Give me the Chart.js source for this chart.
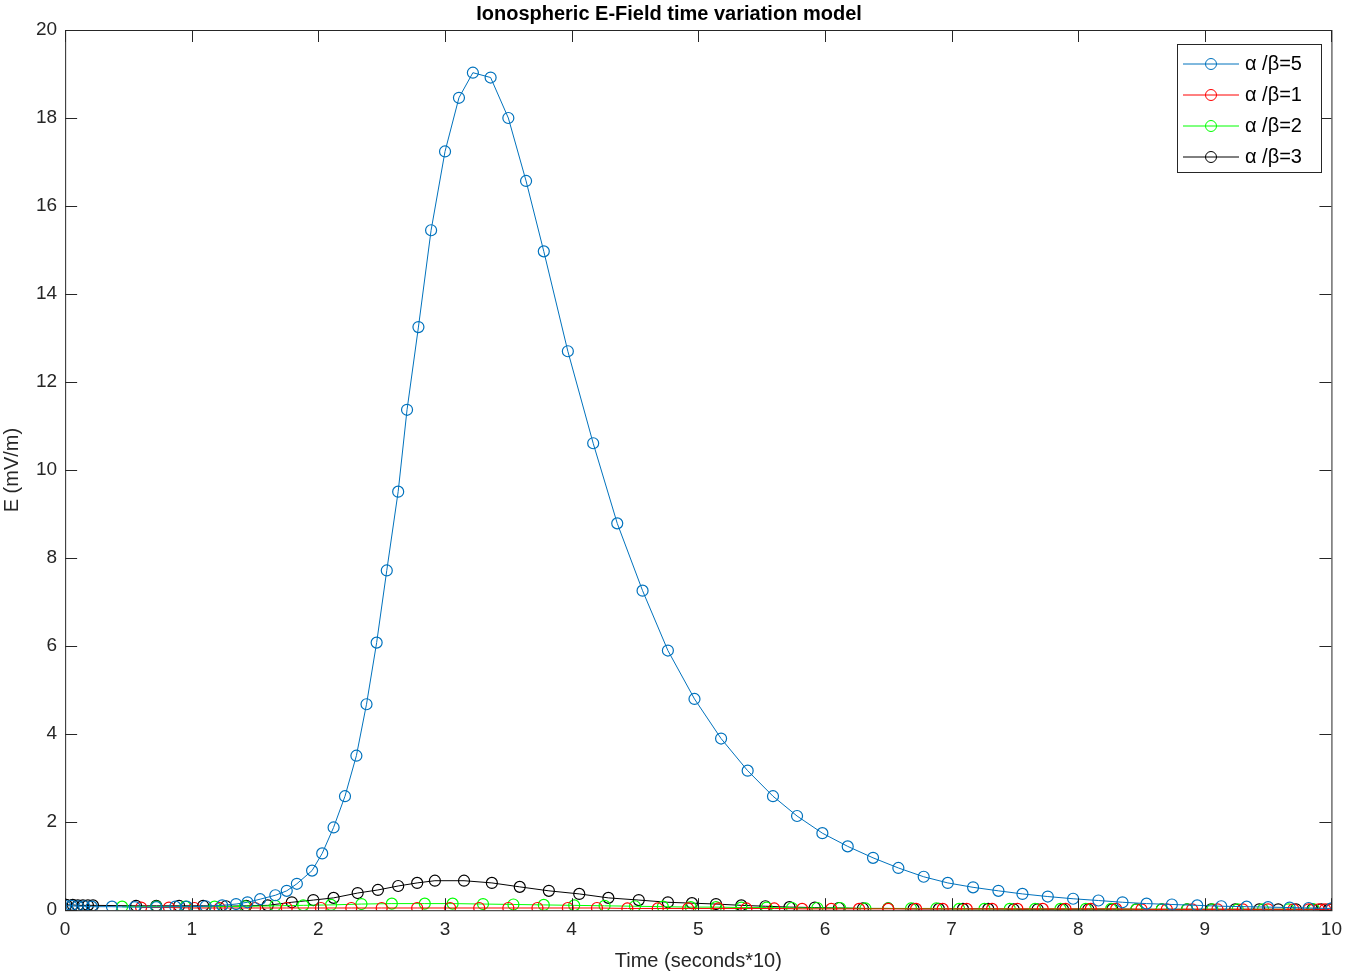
<!DOCTYPE html>
<html>
<head>
<meta charset="utf-8">
<script src="https://cdn.jsdelivr.net/npm/chart.js@4/dist/chart.umd.min.js"></script>
<style>
  body { margin: 0; background: #fff; }
  #wrap { width: 1350px; height: 977px; }
</style>
</head>
<body>
<div id="wrap"><canvas id="c"></canvas></div>
<script>
// values
const seriesNames = ["α /β=5", "α /β=1", "α /β=2", "α /β=3"];
const seriesColors = ["#0072bd", "#ff0000", "#00ff00", "#000000"];

const blueX = [0, 0.05, 0.1, 0.15, 0.21, 0.37, 0.55, 0.72, 0.87, 0.96, 1.11, 1.24, 1.35, 1.44, 1.54, 1.66, 1.75, 1.83, 1.95, 2.03, 2.12, 2.21, 2.3, 2.38, 2.46, 2.54, 2.63, 2.7, 2.79, 2.89, 3.0, 3.11, 3.22, 3.36, 3.5, 3.64, 3.78, 3.97, 4.17, 4.36, 4.56, 4.76, 4.97, 5.18, 5.39, 5.59, 5.78, 5.98, 6.18, 6.38, 6.58, 6.78, 6.97, 7.17, 7.37, 7.56, 7.76, 7.96, 8.16, 8.35, 8.54, 8.74, 8.94, 9.13, 9.33, 9.5, 9.67, 9.82, 10.0];
const blueY = [0.1, 0.1, 0.09, 0.09, 0.08, 0.08, 0.07, 0.07, 0.08, 0.08, 0.09, 0.11, 0.14, 0.18, 0.25, 0.34, 0.44, 0.6, 0.9, 1.29, 1.88, 2.59, 3.51, 4.68, 6.08, 7.72, 9.51, 11.37, 13.25, 15.45, 17.24, 18.46, 19.03, 18.92, 18.0, 16.57, 14.97, 12.7, 10.61, 8.79, 7.26, 5.9, 4.8, 3.9, 3.17, 2.59, 2.14, 1.75, 1.45, 1.19, 0.96, 0.76, 0.62, 0.52, 0.44, 0.37, 0.31, 0.26, 0.22, 0.18, 0.15, 0.13, 0.11, 0.09, 0.08, 0.07, 0.06, 0.05, 0.04];

const redX = [0.6, 0.82, 1.02, 1.22, 1.5, 1.75, 2.02, 2.26, 2.5, 2.78, 3.04, 3.27, 3.5, 3.73, 3.97, 4.2, 4.44, 4.68, 4.92, 5.16, 5.38, 5.6, 5.82, 6.05, 6.27, 6.5, 6.72, 6.93, 7.12, 7.32, 7.52, 7.72, 7.9, 8.1, 8.3, 8.5, 8.7, 8.9, 9.1, 9.3, 9.5, 9.7, 9.82, 9.9, 9.95, 10.0];
const redY = [0.06, 0.06, 0.05, 0.05, 0.05, 0.05, 0.05, 0.05, 0.05, 0.05, 0.05, 0.05, 0.05, 0.05, 0.05, 0.05, 0.04, 0.04, 0.04, 0.04, 0.04, 0.04, 0.03, 0.03, 0.03, 0.03, 0.03, 0.03, 0.03, 0.03, 0.03, 0.03, 0.03, 0.03, 0.03, 0.02, 0.02, 0.02, 0.02, 0.02, 0.02, 0.02, 0.02, 0.02, 0.02, 0.02];

const greenX = [0.45, 0.72, 0.95, 1.18, 1.42, 1.66, 1.88, 2.1, 2.34, 2.58, 2.84, 3.06, 3.3, 3.54, 3.78, 4.02, 4.26, 4.5, 4.72, 4.94, 5.14, 5.34, 5.54, 5.74, 5.94, 6.12, 6.32, 6.5, 6.68, 6.88, 7.06, 7.26, 7.46, 7.66, 7.86, 8.06, 8.26, 8.46, 8.66, 8.86, 9.06, 9.26, 9.46, 9.66, 9.86];
const greenY = [0.08, 0.08, 0.08, 0.08, 0.09, 0.1, 0.11, 0.12, 0.14, 0.15, 0.15, 0.15, 0.14, 0.13, 0.12, 0.11, 0.1, 0.09, 0.08, 0.07, 0.07, 0.06, 0.06, 0.05, 0.05, 0.05, 0.04, 0.04, 0.04, 0.04, 0.03, 0.03, 0.03, 0.03, 0.03, 0.03, 0.03, 0.02, 0.02, 0.02, 0.02, 0.02, 0.02, 0.02, 0.02];

const blackX = [0.01, 0.06, 0.1, 0.14, 0.18, 0.22, 0.56, 0.72, 0.9, 1.09, 1.27, 1.43, 1.6, 1.79, 1.96, 2.12, 2.31, 2.47, 2.63, 2.78, 2.92, 3.15, 3.37, 3.59, 3.82, 4.06, 4.29, 4.53, 4.76, 4.95, 5.14, 5.34, 5.53, 5.72, 5.92, 6.11, 6.3, 6.5, 6.7, 6.9, 7.09, 7.29, 7.49, 7.68, 7.88, 8.08, 8.27, 8.46, 8.66, 8.86, 9.05, 9.24, 9.43, 9.58, 9.72, 9.85, 9.92, 9.98];
const blackY = [0.12, 0.12, 0.11, 0.11, 0.11, 0.11, 0.1, 0.1, 0.1, 0.1, 0.09, 0.1, 0.11, 0.18, 0.23, 0.28, 0.39, 0.46, 0.55, 0.62, 0.67, 0.67, 0.62, 0.53, 0.44, 0.37, 0.28, 0.23, 0.18, 0.16, 0.14, 0.11, 0.09, 0.07, 0.06, 0.05, 0.04, 0.04, 0.03, 0.03, 0.03, 0.03, 0.02, 0.02, 0.02, 0.02, 0.02, 0.02, 0.02, 0.02, 0.02, 0.02, 0.02, 0.02, 0.02, 0.02, 0.02, 0.02];

const xTicks = [0, 1, 2, 3, 4, 5, 6, 7, 8, 9, 10];
const yTicks = [0, 2, 4, 6, 8, 10, 12, 14, 16, 18, 20];

const pts = (xs, ys) => xs.map((x, i) => ({ x: x, y: ys[i] }));
const allSeries = [pts(blueX, blueY), pts(redX, redY), pts(greenX, greenY), pts(blackX, blackY)];

const font = "Helvetica, 'Liberation Sans', Arial, sans-serif";

// matlab-ish box, inward ticks, legend
const boxPlugin = {
  id: "box",
  afterDraw(chart) {
    const { ctx, chartArea: a, scales } = chart;
    ctx.save();
    ctx.strokeStyle = "#262626";
    ctx.lineWidth = 1;
    ctx.strokeRect(a.left + 0.5, a.top + 0.5, a.right - a.left, a.bottom - a.top);
    ctx.beginPath();
    xTicks.forEach(t => {
      const px = Math.round(scales.x.getPixelForValue(t)) + 0.5;
      ctx.moveTo(px, a.bottom); ctx.lineTo(px, a.bottom - 12);
      ctx.moveTo(px, a.top); ctx.lineTo(px, a.top + 12);
    });
    yTicks.forEach(t => {
      const py = Math.round(scales.y.getPixelForValue(t)) + 0.5;
      ctx.moveTo(a.left, py); ctx.lineTo(a.left + 12, py);
      ctx.moveTo(a.right, py); ctx.lineTo(a.right - 12, py);
    });
    ctx.stroke();

    // legend
    const lx = 1177, ly = 44, lw = 144, lh = 128;
    ctx.fillStyle = "#fff";
    ctx.fillRect(lx, ly, lw, lh);
    ctx.strokeStyle = "#262626";
    ctx.strokeRect(lx + 0.5, ly + 0.5, lw, lh);
    seriesNames.forEach((name, i) => {
      const cy = ly + 20 + i * 31;
      ctx.strokeStyle = seriesColors[i];
      ctx.beginPath();
      ctx.moveTo(lx + 6, cy); ctx.lineTo(lx + 62, cy);
      ctx.stroke();
      ctx.beginPath();
      ctx.arc(lx + 34, cy, 5.5, 0, Math.PI * 2);
      ctx.stroke();
      ctx.fillStyle = "#000";
      ctx.font = "20px " + font;
      ctx.textBaseline = "middle";
      ctx.fillText(name, lx + 68, cy);
    });
    ctx.restore();
  }
};

new Chart(document.getElementById("c"), {
  type: "line",
  data: {
    datasets: allSeries.map((d, i) => ({
      label: seriesNames[i],
      data: d,
      borderColor: seriesColors[i],
      backgroundColor: "transparent",
      borderWidth: 1,
      pointRadius: 5.5,
      pointBorderWidth: 1.2,
      pointBorderColor: seriesColors[i],
      pointBackgroundColor: "transparent",
      tension: 0
    }))
  },
  options: {
    responsive: true,
    maintainAspectRatio: false,
    animation: false,
    layout: { padding: { left: 0, right: 12, top: 0, bottom: 0 } },
    plugins: {
      legend: { display: false },
      tooltip: { enabled: false },
      title: {
        display: true,
        text: "Ionospheric E-Field time variation model",
        color: "#000",
        font: { family: font, size: 20, weight: "bold" },
        padding: { top: 2, bottom: 4 }
      }
    },
    scales: {
      x: {
        type: "linear", min: 0, max: 10,
        afterBuildTicks: s => { s.ticks = xTicks.map(v => ({ value: v })); },
        grid: { display: false, drawTicks: false },
        border: { display: false },
        ticks: { color: "#262626", font: { family: font, size: 19 }, padding: 8, maxRotation: 0 },
        title: { display: true, text: "Time (seconds*10)", color: "#262626", font: { family: font, size: 20 }, padding: { top: 0, bottom: 4 } }
      },
      y: {
        type: "linear", min: 0, max: 20,
        afterBuildTicks: s => { s.ticks = yTicks.map(v => ({ value: v })); },
        grid: { display: false, drawTicks: false },
        border: { display: false },
        ticks: { color: "#262626", font: { family: font, size: 19 }, padding: 8 },
        title: { display: true, text: "E (mV/m)", color: "#262626", font: { family: font, size: 20 }, padding: { top: 0, bottom: 4 } }
      }
    }
  },
  plugins: [boxPlugin]
});
</script>
</body>
</html>
